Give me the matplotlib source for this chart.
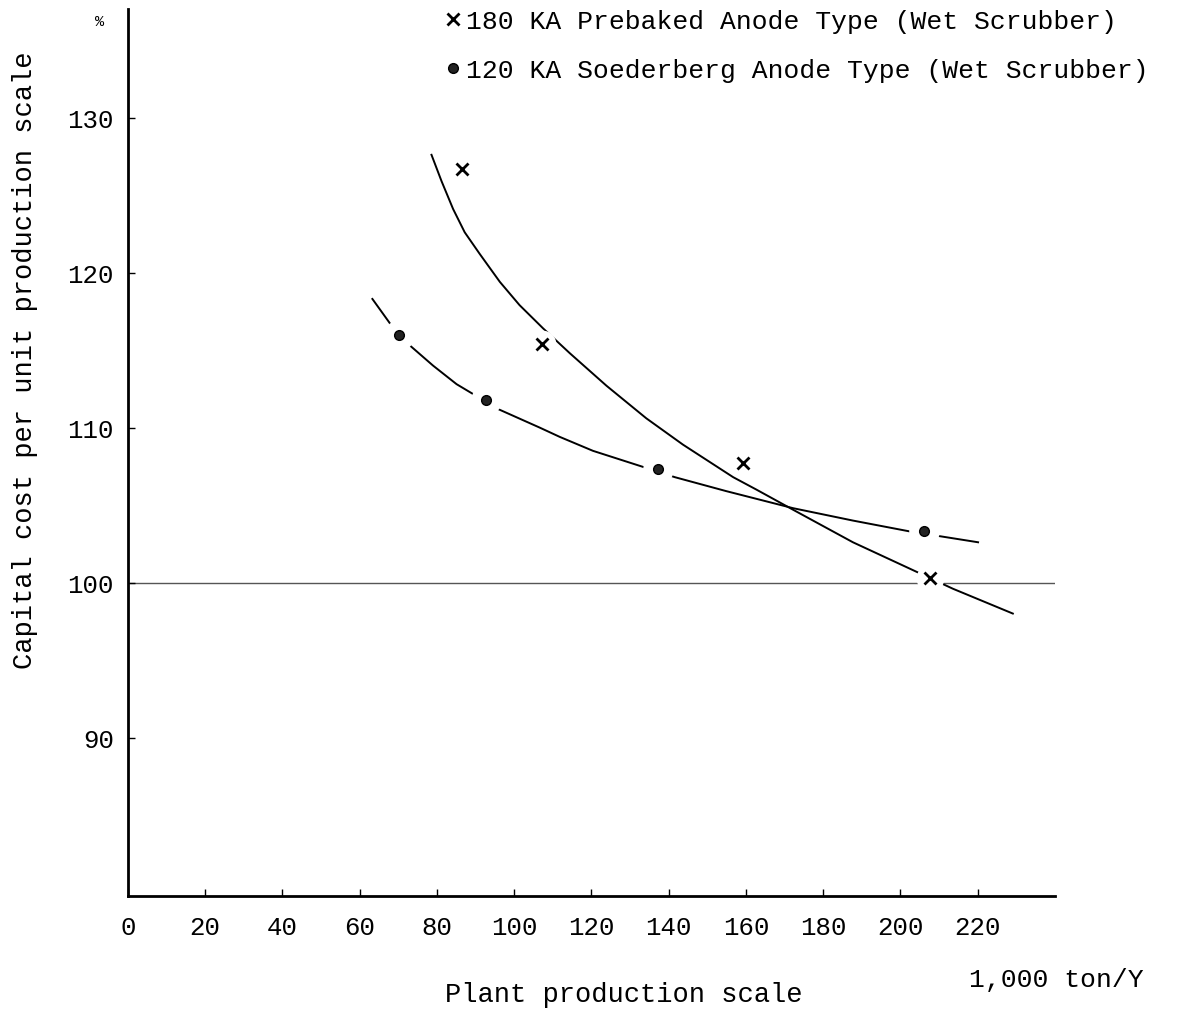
import numpy as np
import matplotlib
matplotlib.use("Agg")
import matplotlib.pyplot as plt

plt.rcParams['font.family'] = ['Liberation Mono', 'DejaVu Sans Mono']

# measured points (1,000 ton/Y, % of 100)
pre_x = [86.4, 107.1, 159.2, 207.6]
pre_y = [126.7, 115.4, 107.7, 100.3]
soe_x = [70.1, 92.6, 137.2, 206.0]
soe_y = [116.0, 111.8, 107.3, 103.3]

# hand-drawn trend curves
pre_curve_x = [78.6, 81.2, 84.2, 87.2, 91.1, 96.3, 101.4, 107.5, 114.4, 123.9,
               134.2, 143.7, 156.7, 162.7, 172.2, 187.7, 202.4, 213.6, 229.1]
pre_curve_y = [127.6, 125.9, 124.1, 122.6, 121.2, 119.4, 117.9, 116.4, 114.8, 112.7,
               110.6, 108.9, 106.8, 106.0, 104.7, 102.6, 100.9, 99.6, 98.0]
soe_curve_x = [63.3, 68.2, 73.0, 79.0, 85.1, 89.8, 95.8, 106.6, 111.8, 120.4,
               132.9, 141.6, 154.9, 172.2, 187.7, 202.4, 220.1]
soe_curve_y = [118.3, 116.6, 115.3, 114.0, 112.8, 112.1, 111.2, 110.0, 109.4, 108.5,
               107.5, 106.8, 105.9, 104.8, 104.0, 103.3, 102.6]

xticks = list(range(0, 221, 20))
yticks = [90, 100, 110, 120, 130]

fig = plt.figure(figsize=(11.84, 10.12), dpi=100)
ax = fig.add_axes([0.108, 0.114, 0.783, 0.876])

ax.axhline(100, color='#555555', lw=1.0, zorder=1)
ax.plot(pre_curve_x, pre_curve_y, color='black', lw=1.4, zorder=2,
        solid_joinstyle='round')
ax.plot(soe_curve_x, soe_curve_y, color='black', lw=1.4, zorder=2,
        solid_joinstyle='round')

# white halos break the curves round each point, as in the drawing
ax.plot(pre_x, pre_y, 'o', ms=20, color='white', mec='none', zorder=3)
ax.plot(soe_x, soe_y, 'o', ms=22, color='white', mec='none', zorder=3)
ax.plot(pre_x, pre_y, 'x', ms=8, mew=2, color='black', zorder=4,
        label='180 KA Prebaked Anode Type (Wet Scrubber)')
ax.plot(soe_x, soe_y, 'o', ms=7, color='#222222', mec='black', zorder=4,
        label='120 KA Soederberg Anode Type (Wet Scrubber)')

ax.set_xlim(0, 240)
ax.set_ylim(79.8, 137.0)
ax.set_xticks(xticks)
ax.set_yticks(yticks)
ax.tick_params(direction='in', length=5, width=1, labelsize=18.5, pad=14)
ax.tick_params(axis='y', pad=10)
for s in ['top', 'right']:
    ax.spines[s].set_visible(False)
for s in ['left', 'bottom']:
    ax.spines[s].set_linewidth(2)

ax.legend(loc='upper left', bbox_to_anchor=(0.332, 1.012), frameon=False,
          fontsize=19, handlelength=0.5, handletextpad=0.25, labelspacing=0.95,
          borderaxespad=0)

fig.text(25 / 1184, 1 - 360 / 1012, 'Capital cost per unit production scale',
         rotation=90, ha='center', va='center', fontsize=19.5)
fig.text(100 / 1184, 1 - 22 / 1012, '%', ha='center', va='center', fontsize=11)
fig.text(624 / 1184, 1 - 995 / 1012, 'Plant production scale',
         ha='center', va='center', fontsize=19.5)
fig.text(1056 / 1184, 1 - 980 / 1012, '1,000 ton/Y',
         ha='center', va='center', fontsize=19)

fig.savefig('out.png', dpi=100, facecolor='white')
